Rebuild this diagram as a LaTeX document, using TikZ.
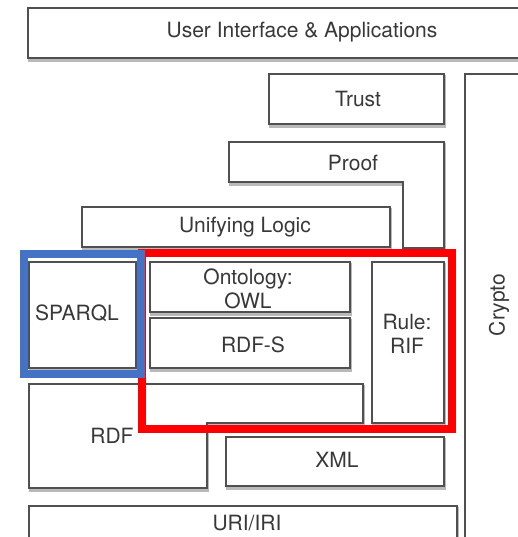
\documentclass[tikz,border=0pt]{standalone}
\usepackage{fontspec}
\setmainfont{TeX Gyre Heros}
\definecolor{edge}{RGB}{80,80,80}
\definecolor{shade}{RGB}{185,185,185}
\definecolor{hlred}{RGB}{255,0,0}
\definecolor{hlblue}{RGB}{68,114,196}
\tikzset{
  layer/.style={draw=edge, line width=1.6pt, fill=white, line join=miter,
    preaction={draw=shade, fill=shade, line width=2.5pt,
      transform canvas={xshift=1.2pt, yshift=-2.6pt}}},
  plainlayer/.style={draw=edge, line width=1.2pt, fill=white},
  lbl/.style={text=black!78, font=\fontsize{21}{24}\selectfont, align=center, inner sep=0pt},
  frame/.style={line width=8pt, line join=miter}
}
\begin{document}
\begin{tikzpicture}[x=1pt,y=-1pt]
\useasboundingbox (0,0) rectangle (518,537);
\clip (0,0) rectangle (518,537);
\fill[white] (0,0) rectangle (518,537);

% vertical side column
\draw[plainlayer] (465,74) rectangle (540,560);
\node[lbl, rotate=90] (crypto) at (499,305) {Crypto};

% top layer
\draw[layer] (28,8) rectangle (560,58);
\node[lbl] (ui) at (302,32) {User Interface \& Applications};

\draw[layer] (269,74) rectangle (444,124);
\node[lbl] (trust) at (358,99) {Trust};

% proof layer (L-shaped)
\draw[layer] (229,142) -- (444,142) -- (444,248) -- (403,248) -- (403,182) -- (229,182) -- cycle;
\node[lbl] (proof) at (353,163) {Proof};

\draw[layer] (82,207) rectangle (390,247);
\node[lbl] (logic) at (245,227) {Unifying Logic};

% middle layers
\draw[layer] (29,262) rectangle (136,368);
\node[lbl] (sparql) at (77,313) {SPARQL};

\draw[layer] (150,262) rectangle (350,312);
\node[lbl] (owl) at (248,289) {Ontology:\\OWL};

\draw[layer] (150,318) rectangle (350,368);
\node[lbl] (rdfs) at (253,345) {RDF-S};

\draw[layer] (372,262) rectangle (444,423);
\node[lbl] (rif) at (407,334) {Rule:\\RIF};

% RDF layer (L-shaped)
\draw[layer] (29,384) -- (363,384) -- (363,423) -- (207,423) -- (207,488) -- (29,488) -- cycle;
\node[lbl] (rdf) at (112,436) {RDF};

\draw[layer] (226,437) rectangle (444,486);
\node[lbl] (xml) at (337,460) {XML};

% bottom layer
\draw[layer] (29,506) rectangle (457,560);
\node[lbl] (uri) at (247,523) {URI/IRI};

% highlight frames
\draw[frame, draw=hlred] (142,253) -- (452,253) -- (452,429) -- (142,429) -- cycle;
\draw[frame, draw=hlblue] (24,254) rectangle (141,374);
\end{tikzpicture}
\end{document}
